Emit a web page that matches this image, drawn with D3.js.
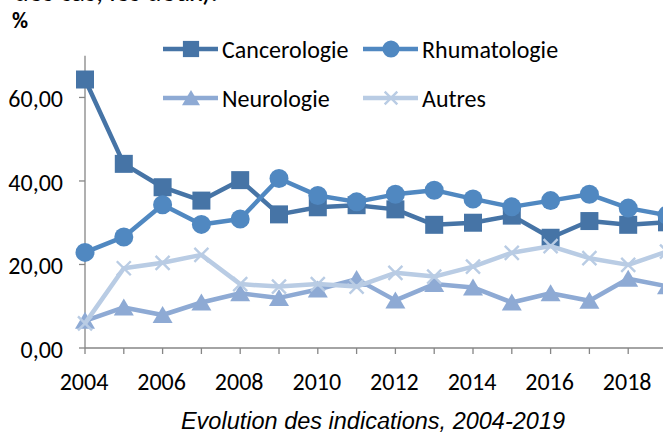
<!DOCTYPE html>
<html>
<head>
<meta charset="utf-8">
<script src="https://cdn.jsdelivr.net/npm/d3@7"></script>
<style>
  body { margin: 0; background: #fff; }
  svg { display: block; font-family: Carlito, "Liberation Sans", sans-serif; }
</style>
</head>
<body>
<div id="chart"></div>
<script>
// years on the x axis
const years = d3.range(2004, 2020);
const cancerologie = [64.3, 44.1, 38.5, 35.3, 40.2, 32.0, 33.7, 34.2, 33.2, 29.5, 30.0, 31.7, 26.4, 30.4, 29.5, 30.1];
const rhumatologie = [22.9, 26.6, 34.3, 29.6, 30.9, 40.6, 36.5, 35.0, 36.8, 37.8, 35.7, 33.8, 35.3, 36.8, 33.5, 31.8];
const neurologie = [6.5, 9.7, 7.9, 10.9, 13.1, 12.0, 14.0, 16.5, 11.4, 15.3, 14.5, 10.9, 13.1, 11.3, 16.6, 14.8];
const autres = [5.9, 19.1, 20.4, 22.3, 15.3, 14.7, 15.3, 14.7, 18.0, 17.1, 19.5, 22.8, 24.4, 21.5, 19.9, 23.1];
const yTicks = [0, 20, 40, 60];
const xTickLabels = [2004, 2006, 2008, 2010, 2012, 2014, 2016, 2018];

const series = [
  { name: "Cancerologie", values: cancerologie, color: "#4674a6", shape: "square" },
  { name: "Rhumatologie", values: rhumatologie, color: "#5088c1", shape: "circle" },
  { name: "Neurologie", values: neurologie, color: "#8eaad4", shape: "triangle" },
  { name: "Autres", values: autres, color: "#b9cce4", shape: "cross" }
];

const width = 663, height = 435;
const svg = d3.select("#chart").append("svg")
  .attr("width", width).attr("height", height);

const x = d3.scaleLinear().domain([2004, 2019]).range([85, 667]);
const y = d3.scaleLinear().domain([0, 70]).range([348, 55.7]);

// line of text above the chart, cut by the top edge as in the source
svg.append("text").attr("x", 14).attr("y", 1)
  .attr("font-size", 28).attr("fill", "#000")
  .text("des cas, les deux).");

svg.append("text").attr("x", 12).attr("y", 28)
  .attr("font-size", 22).attr("font-weight", "bold")
  .text("%");

// axes
const axisColor = "#868686";
svg.append("line").attr("x1", x(2004)).attr("x2", x(2004))
  .attr("y1", y(70)).attr("y2", y(0)).attr("stroke", axisColor).attr("stroke-width", 1.3);
svg.append("line").attr("x1", x(2004)).attr("x2", 670)
  .attr("y1", y(0)).attr("y2", y(0)).attr("stroke", axisColor).attr("stroke-width", 1.3);

svg.append("g").selectAll("line").data(yTicks).join("line")
  .attr("x1", x(2004) - 6).attr("x2", x(2004))
  .attr("y1", d => y(d)).attr("y2", d => y(d))
  .attr("stroke", axisColor).attr("stroke-width", 1.3);
svg.append("g").selectAll("text").data(yTicks).join("text")
  .attr("x", 63).attr("y", d => y(d) + 10)
  .attr("text-anchor", "end").attr("font-size", 24).attr("fill", "#000")
  .text(d => d3.format(".2f")(d).replace(".", ","));

svg.append("g").selectAll("line").data(years).join("line")
  .attr("x1", d => x(d)).attr("x2", d => x(d))
  .attr("y1", y(0)).attr("y2", y(0) + 6)
  .attr("stroke", axisColor).attr("stroke-width", 1.3);
svg.append("g").selectAll("text").data(xTickLabels).join("text")
  .attr("x", d => x(d) - 1).attr("y", y(0) + 42)
  .attr("text-anchor", "middle").attr("font-size", 24).attr("fill", "#000")
  .text(d => d);

// caption
svg.append("text").attr("x", 373).attr("y", 429)
  .attr("text-anchor", "middle").attr("font-size", 23.5)
  .attr("font-family", "'Liberation Sans', Arial, sans-serif")
  .attr("font-style", "italic").attr("fill", "#000")
  .text("Evolution des indications, 2004-2019");

function marker(g, shape, color, k) {
  if (shape === "square") {
    g.append("rect").attr("x", -9 * k).attr("y", -9 * k)
      .attr("width", 18 * k).attr("height", 18 * k).attr("fill", color);
  } else if (shape === "circle") {
    g.append("circle").attr("r", 9.5 * k).attr("fill", color);
  } else if (shape === "triangle") {
    g.append("path").attr("d", `M0,${-9 * k}L${10 * k},${8 * k}L${-10 * k},${8 * k}Z`).attr("fill", color);
  } else {
    g.append("path").attr("d", `M${-7 * k},${-7 * k}L${7 * k},${7 * k}M${-7 * k},${7 * k}L${7 * k},${-7 * k}`)
      .attr("stroke", color).attr("stroke-width", 2.4).attr("fill", "none");
  }
}

const line = d3.line().x((d, i) => x(years[i])).y(d => y(d));

series.forEach(s => {
  const g = svg.append("g");
  g.append("path").datum(s.values).attr("d", line)
    .attr("fill", "none").attr("stroke", s.color).attr("stroke-width", 4.5)
    .attr("stroke-linejoin", "round");
  g.selectAll("g").data(s.values).join("g")
    .attr("transform", (d, i) => `translate(${x(years[i])},${y(d)})`)
    .each(function() { marker(d3.select(this), s.shape, s.color, 1); });
});

// legend
const legendPos = [
  { x: 163, y: 49 }, { x: 363, y: 49 }, { x: 163, y: 98 }, { x: 363, y: 98 }
];
series.forEach((s, i) => {
  const p = legendPos[i];
  const g = svg.append("g").attr("transform", `translate(${p.x},${p.y})`);
  g.append("line").attr("x1", 0).attr("x2", 55).attr("y1", 0).attr("y2", 0)
    .attr("stroke", s.color).attr("stroke-width", 4.5);
  const m = g.append("g").attr("transform", "translate(28,0)");
  marker(m, s.shape, s.color, 0.9);
  g.append("text").attr("x", 59).attr("y", 9)
    .attr("font-size", 24).attr("fill", "#000").text(s.name);
});
</script>
</body>
</html>
